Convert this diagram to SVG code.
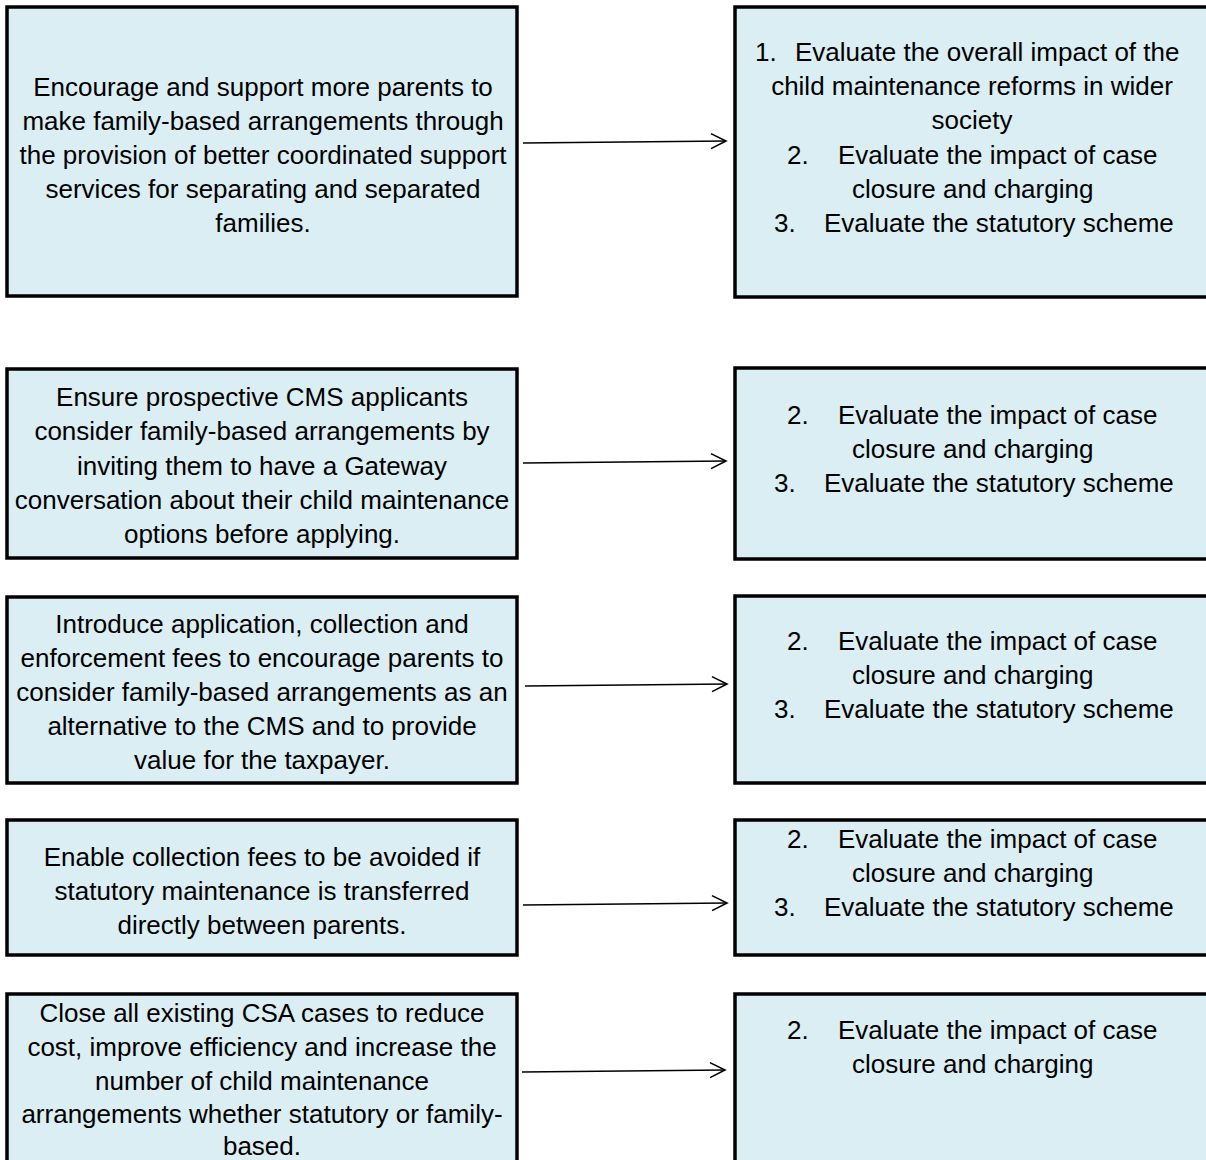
<svg xmlns="http://www.w3.org/2000/svg" width="1206" height="1160" viewBox="0 0 1206 1160">
<style>
.box{fill:#DAEEF3;stroke:#000;stroke-width:3.5}
.t{font-family:"Liberation Sans",Arial,sans-serif;font-size:26px;fill:#000}
.c{text-anchor:middle}
.conn{stroke:#000;stroke-width:1.6;fill:none}
</style>
<defs>
<marker id="arr" markerUnits="userSpaceOnUse" markerWidth="20" markerHeight="20" viewBox="-17 -10 20 20" refX="0" refY="0" orient="auto">
<path d="M -15 -7.5 L 0 0 L -15 7.5" fill="none" stroke="#000" stroke-width="1.6"/>
</marker>
</defs>
<rect width="1206" height="1160" fill="#fff"/>
<g id="connectors">
<line class="conn" x1="523" y1="143" x2="726" y2="141" marker-end="url(#arr)"/>
<line class="conn" x1="523" y1="463" x2="726" y2="461" marker-end="url(#arr)"/>
<line class="conn" x1="525" y1="686" x2="727" y2="684" marker-end="url(#arr)"/>
<line class="conn" x1="523" y1="905" x2="727" y2="903" marker-end="url(#arr)"/>
<line class="conn" x1="522" y1="1072" x2="725" y2="1070" marker-end="url(#arr)"/>
</g>
<g id="obj1">
<rect class="box" x="7" y="7" width="510" height="289"/>
<text class="t c"><tspan x="263" y="96">Encourage and support more parents to</tspan><tspan x="263" y="130">make family-based arrangements through</tspan><tspan x="263" y="164">the provision of better coordinated support</tspan><tspan x="263" y="198">services for separating and separated</tspan><tspan x="263" y="232">families.</tspan></text>
</g>
<g id="eval1">
<rect class="box" x="735" y="7" width="480" height="290"/>
<text class="t"><tspan x="755" y="61">1.</tspan><tspan x="795" y="61">Evaluate the overall impact of the</tspan></text>
<text class="t c"><tspan x="972" y="95">child maintenance reforms in wider</tspan><tspan x="972" y="129">society</tspan></text>
<text class="t"><tspan x="787" y="164">2.</tspan><tspan x="838" y="164">Evaluate the impact of case</tspan><tspan x="852" y="198">closure and charging</tspan><tspan x="774" y="232">3.</tspan><tspan x="824" y="232">Evaluate the statutory scheme</tspan></text>
</g>
<g id="obj2">
<rect class="box" x="7" y="369" width="510" height="189"/>
<text class="t c"><tspan x="262" y="406">Ensure prospective CMS applicants</tspan><tspan x="262" y="440">consider family-based arrangements by</tspan><tspan x="262" y="475">inviting them to have a Gateway</tspan><tspan x="262" y="509">conversation about their child maintenance</tspan><tspan x="262" y="543">options before applying.</tspan></text>
</g>
<g id="eval2">
<rect class="box" x="735" y="368" width="480" height="191"/>
<text class="t"><tspan x="787" y="424">2.</tspan><tspan x="838" y="424">Evaluate the impact of case</tspan><tspan x="852" y="458">closure and charging</tspan><tspan x="774" y="492">3.</tspan><tspan x="824" y="492">Evaluate the statutory scheme</tspan></text>
</g>
<g id="obj3">
<rect class="box" x="7" y="597" width="510" height="186"/>
<text class="t c"><tspan x="262" y="633">Introduce application, collection and</tspan><tspan x="262" y="667">enforcement fees to encourage parents to</tspan><tspan x="262" y="701">consider family-based arrangements as an</tspan><tspan x="262" y="735">alternative to the CMS and to provide</tspan><tspan x="262" y="769">value for the taxpayer.</tspan></text>
</g>
<g id="eval3">
<rect class="box" x="735" y="596" width="480" height="187"/>
<text class="t"><tspan x="787" y="650">2.</tspan><tspan x="838" y="650">Evaluate the impact of case</tspan><tspan x="852" y="684">closure and charging</tspan><tspan x="774" y="718">3.</tspan><tspan x="824" y="718">Evaluate the statutory scheme</tspan></text>
</g>
<g id="obj4">
<rect class="box" x="7" y="820" width="510" height="135"/>
<text class="t c"><tspan x="262" y="866">Enable collection fees to be avoided if</tspan><tspan x="262" y="900">statutory maintenance is transferred</tspan><tspan x="262" y="934">directly between parents.</tspan></text>
</g>
<g id="eval4">
<rect class="box" x="735" y="820" width="480" height="135"/>
<text class="t"><tspan x="787" y="848">2.</tspan><tspan x="838" y="848">Evaluate the impact of case</tspan><tspan x="852" y="882">closure and charging</tspan><tspan x="774" y="916">3.</tspan><tspan x="824" y="916">Evaluate the statutory scheme</tspan></text>
</g>
<g id="obj5">
<rect class="box" x="7" y="994" width="510" height="220"/>
<text class="t c"><tspan x="262" y="1022">Close all existing CSA cases to reduce</tspan><tspan x="262" y="1056">cost, improve efficiency and increase the</tspan><tspan x="262" y="1090">number of child maintenance</tspan><tspan x="262" y="1123">arrangements whether statutory or family-</tspan><tspan x="262" y="1155">based.</tspan></text>
</g>
<g id="eval5">
<rect class="box" x="735" y="994" width="480" height="220"/>
<text class="t"><tspan x="787" y="1039">2.</tspan><tspan x="838" y="1039">Evaluate the impact of case</tspan><tspan x="852" y="1073">closure and charging</tspan></text>
</g>
</svg>
